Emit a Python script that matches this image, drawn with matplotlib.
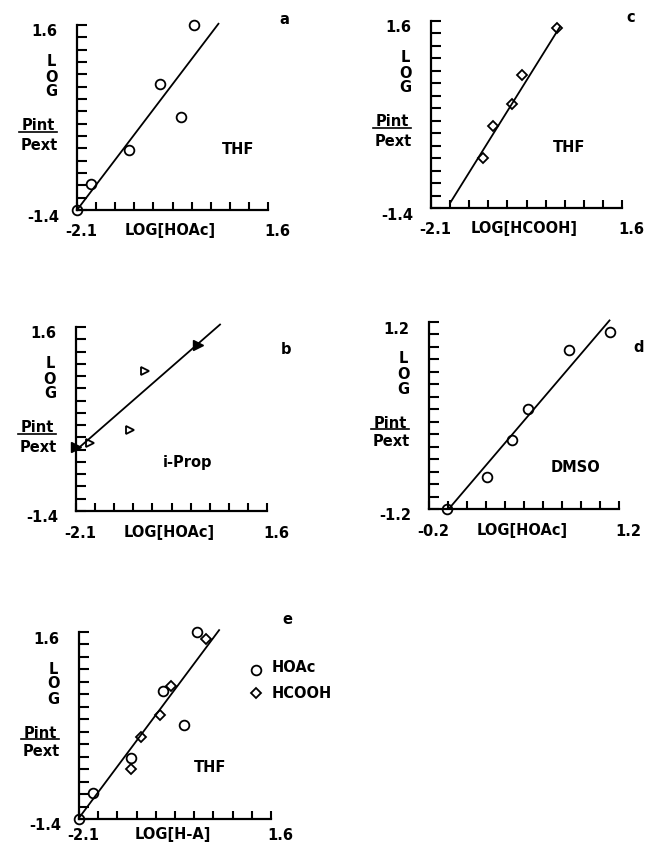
import numpy as np
import matplotlib
matplotlib.use('Agg')
import matplotlib.pyplot as plt

# data
hoac_x = [-2.1, -1.83, -1.09, -0.49, -0.08, 0.17]
hoac_y = [-1.4, -0.98, -0.42, 0.65, 0.11, 1.60]
hcooh_x = [-1.10, -0.90, -0.53, -0.33, 0.34]
hcooh_y = [-0.60, -0.08, 0.27, 0.73, 1.48]
iprop_open_x = [-1.83, -1.05, -0.76]
iprop_open_y = [-0.29, -0.08, 0.88]
iprop_fill_x = [-2.1, 0.26]
iprop_fill_y = [-0.36, 1.30]
dmso_x = [-0.07, 0.23, 0.41, 0.53, 0.83, 1.13]
dmso_y = [-1.20, -0.79, -0.31, 0.08, 0.84, 1.07]

fit_a = ([-2.1, 0.64], [-1.4, 1.62])
fit_c = ([-1.73, 0.40], [-1.32, 1.51])
fit_b = ([-2.1, 0.69], [-0.41, 1.64])
fit_d = ([-0.05, 1.13], [-1.19, 1.22])
fit_e = ([-2.08, 0.60], [-1.36, 1.63])

lim_thf_x = (-2.1, 1.6)
lim_thf_y = (-1.4, 1.6)
lim_dmso_x = (-0.2, 1.2)
lim_dmso_y = (-1.2, 1.2)
xlab_hoac = 'LOG[HOAc]'
xlab_hcooh = 'LOG[HCOOH]'
xlab_ha = 'LOG[H-A]'
legend_labels = ['HOAc', 'HCOOH']

W, H = 645, 844
fig = plt.figure(figsize=(6.45, 8.44), dpi=100)
fs = 10.5
fw = 'bold'


def ftext(x, y, s, ha='center', va='center', **kw):
    fig.text(x / W, 1 - y / H, s, ha=ha, va=va, fontsize=fs, fontweight=fw, **kw)


def panel(box, xlim, ylim, xlabel, letter, letter_xy, solvent, solvent_xy, xoff=22):
    l, r, t, b = box
    ax = fig.add_axes([l / W, 1 - b / H, (r - l) / W, (b - t) / H])
    ax.set_xlim(xlim)
    ax.set_ylim(ylim)
    ax.patch.set_alpha(0)
    for s in ['top', 'right']:
        ax.spines[s].set_visible(False)
    for s in ['left', 'bottom']:
        ax.spines[s].set_linewidth(1.6)
    ax.set_xticks(np.linspace(xlim[0], xlim[1], 11))
    ax.set_yticks(np.linspace(ylim[0], ylim[1], 16))
    ax.tick_params(direction='in', width=1.5, labelleft=False, labelbottom=False)
    ax.tick_params(axis='y', length=7.2)
    ax.tick_params(axis='x', length=6)
    # tick labels at the ends only
    ftext(l - 20, t + 7, f'{ylim[1]:.1f}', ha='right')
    ftext(l - 18, b + 7, f'{ylim[0]:.1f}', ha='right')
    ftext(l + 4, b + xoff, f'{xlim[0]:.1f}')
    ftext(r + 9, b + xoff, f'{xlim[1]:.1f}')
    ftext((l + r) / 2 - 2, b + xoff - 1, xlabel)
    # y label
    for i, ch in enumerate('LOG'):
        ftext(l - 26, t + 37 + 15 * i, ch)
    ftext(l - 39, t + 101, 'Pint')
    fig.add_artist(plt.Line2D([(l - 58) / W, (l - 20) / W],
                              [1 - (t + 107) / H, 1 - (t + 107) / H],
                              color='black', lw=1.2))
    ftext(l - 38, t + 120, 'Pext')
    ftext(letter_xy[0], letter_xy[1], letter)
    ftext(solvent_xy[0], solvent_xy[1], solvent)
    return ax


mk = dict(linestyle='none', clip_on=False, color='black')

# a
ax = panel((77, 268, 25, 210), lim_thf_x, lim_thf_y, xlab_hoac, 'a', (284, 20), 'THF', (238, 150))
ax.plot(*fit_a, color='black', lw=1.3, clip_on=False)
ax.plot(hoac_x, hoac_y, marker='o', ms=7, mfc='none', mew=1.3, **mk)

# c
ax = panel((431, 622, 21, 208), lim_thf_x, lim_thf_y, xlab_hcooh, 'c', (631, 18), 'THF', (569, 147))
ax.plot(*fit_c, color='black', lw=1.3, clip_on=False)
ax.plot(hcooh_x, hcooh_y, marker='D', ms=5, mfc='none', mew=1.3, **mk)

# b
ax = panel((76, 267, 327, 511), lim_thf_x, lim_thf_y, xlab_hoac, 'b', (286, 350), 'i-Prop', (187, 462))
ax.plot(*fit_b, color='black', lw=1.3, clip_on=False)
ax.plot(iprop_open_x, iprop_open_y, marker='>', ms=6, mfc='none', mew=1.3, **mk)
ax.plot(iprop_fill_x, iprop_fill_y, marker='>', ms=7, mfc='black', mew=1.0, **mk)

# d
ax = panel((429, 619, 322, 509), lim_dmso_x, lim_dmso_y, xlab_hoac, 'd', (639, 347), 'DMSO', (576, 467))
ax.plot(*fit_d, color='black', lw=1.3, clip_on=False)
ax.plot(dmso_x, dmso_y, marker='o', ms=7, mfc='none', mew=1.3, **mk)

# e
ax = panel((79, 271, 632, 819), lim_thf_x, lim_thf_y, xlab_ha, 'e', (287, 620), 'THF', (210, 767), xoff=17)
ax.plot(*fit_e, color='black', lw=1.3, clip_on=False)
ax.plot(hoac_x, hoac_y, marker='o', ms=7, mfc='none', mew=1.3, **mk)
ax.plot(hcooh_x, hcooh_y, marker='D', ms=5, mfc='none', mew=1.3, **mk)

# legend for e
fig.add_artist(plt.Line2D([256 / W], [1 - 670 / H], marker='o', ms=7, mfc='none', mew=1.3, color='black'))
fig.add_artist(plt.Line2D([256 / W], [1 - 693 / H], marker='D', ms=5, mfc='none', mew=1.3, color='black'))
ftext(272, 668, legend_labels[0], ha='left')
ftext(272, 694, legend_labels[1], ha='left')

fig.savefig('out.png', dpi=100)
